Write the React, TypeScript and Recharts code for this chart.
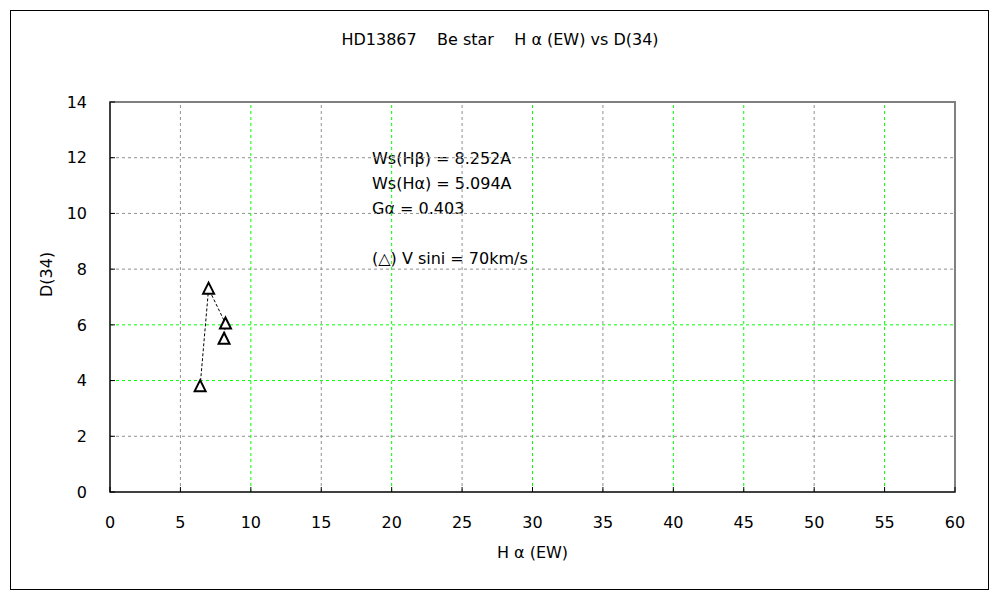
import React from "react";
import {
  ScatterChart,
  Scatter,
  XAxis,
  YAxis,
  ReferenceLine,
  ReferenceArea,
  Customized,
} from "recharts";

// H-alpha equivalent width vs D(34) for HD13867
const hAlphaEW = [6.4, 7.0, 8.2, 8.1];
const d34 = [3.8, 7.3, 6.05, 5.5];

const xTicks = [0, 5, 10, 15, 20, 25, 30, 35, 40, 45, 50, 55, 60];
const yTicks = [0, 2, 4, 6, 8, 10, 12, 14];
const xGreen = [10, 20, 30, 40, 45, 55];
const xGray = [5, 15, 25, 35, 50];
const yGreen = [4, 6];
const yGray = [2, 8, 10, 12];

const notes = [
  "Ws(Hβ) = 8.252A",
  "Ws(Hα) = 5.094A",
  "Gα = 0.403",
  "",
  "(△) V sini = 70km/s",
];

const FONT = "'DejaVu Sans', sans-serif";

const data = hAlphaEW.map((x, i) => ({ x, y: d34[i] }));

function Triangle(props: any) {
  const { cx, cy } = props;
  return (
    <polygon
      points={`${cx - 5.5},${cy + 5} ${cx + 5.5},${cy + 5} ${cx},${cy - 6}`}
      fill="#fff"
      stroke="#000"
      strokeWidth={2}
    />
  );
}

function Notes() {
  return (
    <g fontFamily={FONT} fontSize={16} fill="#000">
      {notes.map((t, i) => (
        <text key={i} x={372} y={164 + i * 25}>
          {t}
        </text>
      ))}
    </g>
  );
}

export default function App() {
  return (
    <div style={{ position: "absolute", left: 0, top: 0, width: 1000, height: 600, background: "#fff" }}>
      <div
        style={{
          position: "absolute",
          left: 10,
          top: 10,
          width: 977,
          height: 578,
          border: "1px solid #000",
        }}
      />
      <div
        style={{
          position: "absolute",
          left: 0,
          top: 30,
          width: 1000,
          textAlign: "center",
          fontFamily: FONT,
          fontSize: 16,
          whiteSpace: "pre",
        }}
      >
        {"HD13867    Be star    H α (EW) vs D(34)"}
      </div>
      <ScatterChart
        width={1000}
        height={600}
        margin={{ top: 102, right: 45, bottom: 68, left: 40 }}
        style={{ position: "absolute", left: 0, top: 0 }}
      >
        <ReferenceArea x1={0} x2={60} y1={0} y2={14} fill="none" stroke="#808080" strokeWidth={2} />
        {xGray.map((v) => (
          <ReferenceLine key={"xg" + v} x={v} stroke="#909090" strokeDasharray="3 3" />
        ))}
        {yGray.map((v) => (
          <ReferenceLine key={"yg" + v} y={v} stroke="#909090" strokeDasharray="3 3" />
        ))}
        {xGreen.map((v) => (
          <ReferenceLine key={"xG" + v} x={v} stroke="#00ff00" strokeDasharray="3 3" />
        ))}
        {yGreen.map((v) => (
          <ReferenceLine key={"yG" + v} y={v} stroke="#00ff00" strokeDasharray="3 3" />
        ))}
        <XAxis
          type="number"
          dataKey="x"
          domain={[0, 60]}
          ticks={xTicks}
          height={40}
          stroke="#000"
          tickSize={-5}
          tickMargin={30}
          tick={{ fill: "#000", fontSize: 16, fontFamily: FONT }}
          label={{
            value: "H α (EW)",
            position: "insideBottom",
            offset: -26,
            fill: "#000",
            fontSize: 16,
            fontFamily: FONT,
          }}
        />
        <YAxis
          type="number"
          dataKey="y"
          domain={[0, 14]}
          ticks={yTicks}
          width={70}
          stroke="#000"
          tickSize={-5}
          tickMargin={28}
          tick={{ fill: "#000", fontSize: 16, fontFamily: FONT }}
          label={{
            value: "D(34)",
            angle: -90,
            position: "insideLeft",
            offset: 6,
            fill: "#000",
            fontSize: 16,
            fontFamily: FONT,
          }}
        />
        <Scatter
          data={data}
          isAnimationActive={false}
          line={{ stroke: "#000", strokeDasharray: "3 2", strokeWidth: 1 }}
          shape={Triangle}
        />
        <Customized component={Notes} />
      </ScatterChart>
    </div>
  );
}
